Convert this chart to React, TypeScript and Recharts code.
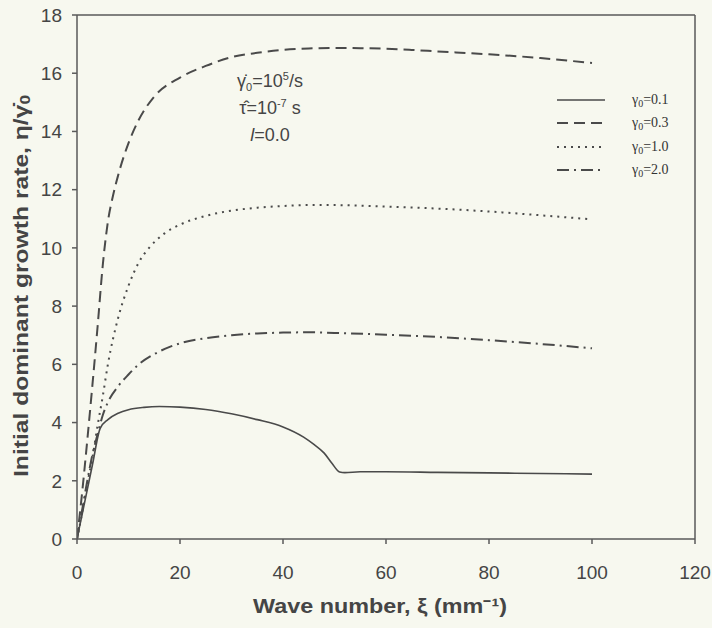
import { Line, LineChart, ReferenceLine, XAxis, YAxis } from 'recharts'

// wave number ξ (mm^-1) and growth rate η/γ̇0 for each γ0
const xiG01 = [0, 1, 2, 3, 4.5, 6, 8, 10, 13, 16, 20, 25, 30, 35, 40, 44, 46, 48, 49.5, 51, 52, 55, 60, 70, 80, 90, 100]
const etaG01 = [0, 0.85, 1.7, 2.55, 3.8, 4.1, 4.32, 4.44, 4.52, 4.55, 4.53, 4.45, 4.3, 4.1, 3.85, 3.5, 3.25, 2.95, 2.6, 2.3, 2.28, 2.31, 2.31, 2.29, 2.27, 2.25, 2.23]

const xiG03 = [0, 1, 2, 3, 4, 5, 6, 7, 8, 10, 12, 15, 20, 25, 30, 35, 40, 45, 50, 55, 60, 65, 70, 80, 90, 100]
const etaG03 = [0, 1.6, 3.4, 5.3, 7.3, 9.4, 10.9, 11.8, 12.5, 13.6, 14.4, 15.2, 15.85, 16.25, 16.55, 16.7, 16.8, 16.85, 16.87, 16.86, 16.84, 16.8, 16.75, 16.65, 16.52, 16.35]

const xiG10 = [0, 1, 2, 3, 4, 5, 6, 8, 10, 12, 14, 17, 20, 25, 30, 35, 40, 45, 50, 55, 60, 70, 80, 90, 100]
const etaG10 = [0, 0.9, 1.9, 2.8, 3.9, 4.9, 6.0, 7.6, 8.7, 9.5, 10.0, 10.5, 10.8, 11.1, 11.28, 11.38, 11.44, 11.47, 11.47, 11.45, 11.42, 11.35, 11.25, 11.12, 10.98]

const xiG20 = [0, 1, 2, 3, 4, 5, 6, 8, 10, 12, 15, 18, 20, 25, 30, 35, 40, 45, 50, 60, 70, 80, 90, 100]
const etaG20 = [0, 1.0, 2.0, 2.9, 3.6, 4.25, 4.7, 5.25, 5.65, 6.0, 6.35, 6.6, 6.72, 6.9, 7.0, 7.06, 7.09, 7.1, 7.08, 7.02, 6.94, 6.83, 6.7, 6.55]

const xTicks = [0, 20, 40, 60, 80, 100, 120]
const yTicks = [0, 2, 4, 6, 8, 10, 12, 14, 16, 18]

const gammaValues = ['0.1', '0.3', '1.0', '2.0']

const toPoints = (xs: number[], ys: number[]) => xs.map((x, i) => ({ x, y: ys[i] }))

const ink = '#4a4a4a'
const axisColor = '#5a5a5a'
const textColor = '#454545'
const font = '"Liberation Sans", Arial, sans-serif'

const series = [
  { g: gammaValues[0], data: toPoints(xiG01, etaG01), dash: undefined, width: 1.6 },
  { g: gammaValues[1], data: toPoints(xiG03, etaG03), dash: '11 6', width: 2 },
  { g: gammaValues[2], data: toPoints(xiG10, etaG10), dash: '2 5', width: 2 },
  { g: gammaValues[3], data: toPoints(xiG20, etaG20), dash: '12 5 2 5', width: 2 },
]

const supStyle = { fontSize: 11, position: 'relative' as const, top: -7, verticalAlign: 'baseline' }
const subStyle = { fontSize: 11, position: 'relative' as const, top: 4, verticalAlign: 'baseline' }

function LegendBox() {
  return (
    <div
      style={{
        position: 'absolute',
        left: 557,
        top: 88,
        fontFamily: '"Liberation Serif", "Times New Roman", serif',
        fontSize: 14,
        color: '#333',
      }}
    >
      {series.map((s) => (
        <div key={s.g} style={{ display: 'flex', alignItems: 'center', height: 23.5 }}>
          <svg width={48} height={6} style={{ marginRight: 27 }}>
            <line x1={0} y1={3} x2={48} y2={3} stroke={ink} strokeWidth={s.width} strokeDasharray={s.dash} />
          </svg>
          <span>
            γ<span style={{ fontSize: 10, position: 'relative', top: 3 }}>0</span>={s.g}
          </span>
        </div>
      ))}
    </div>
  )
}

function YTitle() {
  return (
    <text x={21} y={286} transform="rotate(-90 21 286)" textAnchor="middle" dominantBaseline="central"
      fontFamily={font} fontSize={20} fontWeight="bold" fill={textColor}
      textLength={382} lengthAdjust="spacingAndGlyphs">
      Initial dominant growth rate, η/γ̇<tspan fontSize={14} dy={4}>0</tspan>
    </text>
  )
}

function XTitle() {
  return (
    <text x={380} y={613} textAnchor="middle" fontFamily={font} fontSize={20} fontWeight="bold"
      fill={textColor} textLength={254} lengthAdjust="spacingAndGlyphs">
      Wave number, ξ (mm⁻¹)
    </text>
  )
}

export default function App() {
  return (
    <div style={{ position: 'absolute', left: 0, top: 0, width: 712, height: 628, background: '#f7f8ef' }}>
      <LineChart width={712} height={628} margin={{ top: 15, right: 17, bottom: 0, left: 0 }}>
        <XAxis
          type="number"
          dataKey="x"
          domain={[0, 120]}
          ticks={xTicks}
          allowDataOverflow
          height={89}
          stroke={axisColor}
          strokeWidth={1.5}
          tickSize={5}
          tickMargin={22}
          tick={{ fill: textColor, fontSize: 19, fontFamily: font }}
          label={{ content: () => <XTitle /> }}
        />
        <YAxis
          type="number"
          dataKey="y"
          domain={[0, 18]}
          ticks={yTicks}
          width={77}
          stroke={axisColor}
          strokeWidth={1.5}
          tickSize={5}
          tickMargin={10}
          tick={{ fill: textColor, fontSize: 19, fontFamily: font }}
          label={{ content: () => <YTitle /> }}
        />
        <ReferenceLine y={18} stroke={axisColor} strokeWidth={1.5} />
        <ReferenceLine x={120} stroke={axisColor} strokeWidth={1.5} />
        {series.map((s) => (
          <Line
            key={s.g}
            data={s.data}
            dataKey="y"
            name={'γ0=' + s.g}
            type="monotone"
            stroke={ink}
            strokeWidth={s.width}
            strokeDasharray={s.dash}
            dot={false}
            activeDot={false}
            isAnimationActive={false}
          />
        ))}
      </LineChart>
      <LegendBox />
      <div
        style={{
          position: 'absolute',
          left: 205,
          top: 69,
          width: 130,
          textAlign: 'center',
          fontFamily: font,
          fontSize: 18,
          color: textColor,
          lineHeight: '25px',
        }}
      >
        <div>
          γ̇<span style={subStyle}>0</span>=10<span style={supStyle}>5</span>/s
        </div>
        <div>
          τ̂=10<span style={supStyle}>-7</span> s
        </div>
        <div>
          <i>l</i>=0.0
        </div>
      </div>
    </div>
  )
}
